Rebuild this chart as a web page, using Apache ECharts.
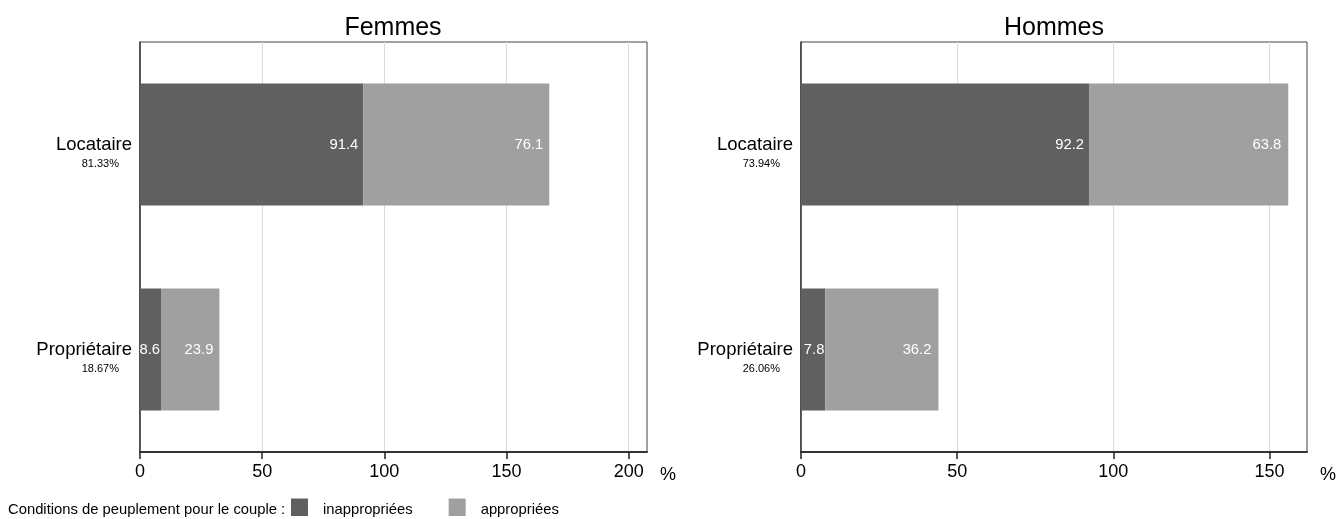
<!DOCTYPE html>
<html>
<head>
<meta charset="utf-8">
<script src="https://cdn.jsdelivr.net/npm/echarts@6/dist/echarts.min.js"></script>
<style>
html,body{margin:0;padding:0;background:#fff;}
#chart{width:1341px;height:519px;}
</style>
</head>
<body>
<div id="chart"></div>
<script>
// ---- data ----
const categories = ['Locataire', 'Propriétaire'];
const panelTitles = ['Femmes', 'Hommes'];
const femmesShare = [81.33, 18.67];
const hommesShare = [73.94, 26.06];
const femmesInappropriees = [91.4, 8.6];
const femmesAppropriees = [76.1, 23.9];
const hommesInappropriees = [92.2, 7.8];
const hommesAppropriees = [63.8, 36.2];
const femmesTicks = [0, 50, 100, 150, 200];
const hommesTicks = [0, 50, 100, 150];
const femmesMax = 207.5;
const hommesMax = 162;
const seriesNames = ['inappropriées', 'appropriées'];
const legendPrefix = 'Conditions de peuplement pour le couple :';
const unitLabel = '%';

// ---- style ----
const DARK = '#606060';
const LIGHT = '#a0a0a0';
const FONT = '"Liberation Sans", Arial, sans-serif';

const chart = echarts.init(document.getElementById('chart'), null, {renderer: 'canvas'});

function xAxisFor(gridIndex, max, ticks) {
  return {
    type: 'value', gridIndex: gridIndex, min: 0, max: max, interval: 50,
    name: '{u|' + unitLabel + '}', nameLocation: 'end', nameGap: 13,
    nameTextStyle: {
      rich: {u: {fontFamily: FONT, fontSize: 18, color: '#000', padding: [46, 0, 0, 0]}}
    },
    axisLine: {show: true, lineStyle: {color: '#333', width: 2}},
    axisTick: {show: true, inside: false, length: 7, lineStyle: {color: '#222', width: 1.5}, customValues: ticks},
    axisLabel: {
      fontFamily: FONT, fontSize: 18, color: '#000', margin: 11,
      formatter: function (v) { return ticks.indexOf(v) >= 0 ? String(v) : ''; }
    },
    splitLine: {show: true, lineStyle: {color: '#dcdcdc', width: 1}}
  };
}

function yAxisFor(gridIndex, shares) {
  return {
    type: 'category', gridIndex: gridIndex, data: categories, inverse: true,
    axisLine: {show: true, lineStyle: {color: '#333', width: 1.5}},
    axisTick: {show: false},
    splitLine: {show: false},
    axisLabel: {
      margin: 8,
      padding: [16, 0, 0, 0],
      formatter: function (v, i) {
        return '{a|' + v + '}\n{b|' + shares[i].toFixed(2) + '%}';
      },
      rich: {
        a: {fontFamily: FONT, fontSize: 18.5, color: '#000', lineHeight: 22, align: 'right'},
        b: {fontFamily: FONT, fontSize: 11, color: '#000', lineHeight: 16, align: 'right', padding: [0, 13, 0, 0]}
      }
    }
  };
}

function barData(values) {
  return values.map(function (v) {
    return v < 10 ? {value: v, label: {distance: 1}} : {value: v};
  });
}

function barSeries(name, values, color, axisIndex, stack, distance) {
  return {
    name: name, type: 'bar', stack: stack,
    xAxisIndex: axisIndex, yAxisIndex: axisIndex,
    barWidth: '59.5%',
    itemStyle: {color: color},
    label: {
      show: true, position: 'insideRight', distance: distance,
      fontFamily: FONT, fontSize: 14.8, color: '#fff',
      formatter: function (p) { return p.value.toFixed(1); }
    },
    emphasis: {disabled: true},
    data: barData(values)
  };
}

const option = {
  animation: false,
  backgroundColor: '#fff',
  title: [
    {text: panelTitles[0], left: 388, top: 11, textAlign: 'center',
     textStyle: {fontFamily: FONT, fontSize: 25, fontWeight: 'normal', color: '#000'}},
    {text: panelTitles[1], left: 1049, top: 11, textAlign: 'center',
     textStyle: {fontFamily: FONT, fontSize: 25, fontWeight: 'normal', color: '#000'}}
  ],
  grid: [
    {left: 140, right: 694, top: 42, bottom: 67, show: true, borderColor: '#444', borderWidth: 1, backgroundColor: '#fff'},
    {left: 801, right: 34, top: 42, bottom: 67, show: true, borderColor: '#444', borderWidth: 1, backgroundColor: '#fff'}
  ],
  xAxis: [xAxisFor(0, femmesMax, femmesTicks), xAxisFor(1, hommesMax, hommesTicks)],
  yAxis: [yAxisFor(0, femmesShare), yAxisFor(1, hommesShare)],
  legend: {
    data: seriesNames,
    left: 291, top: 498.5, padding: 0,
    itemWidth: 17, itemHeight: 17.5, itemGap: 36,
    icon: 'rect',
    selectedMode: false,
    formatter: function (name) { return '{t|' + name + '}'; },
    textStyle: {
      fontFamily: FONT, fontSize: 14.8, color: '#000',
      rich: {t: {fontFamily: FONT, fontSize: 14.8, color: '#000', padding: [6, 0, 0, 10]}}
    }
  },
  graphic: [
    {type: 'text', x: 8, y: 510,
     style: {text: legendPrefix, font: '14.8px ' + FONT, fill: '#000', verticalAlign: 'middle'}}
  ],
  series: [
    barSeries(seriesNames[0], femmesInappropriees, DARK, 0, 'f', 5),
    barSeries(seriesNames[1], femmesAppropriees, LIGHT, 0, 'f', 6),
    barSeries(seriesNames[0], hommesInappropriees, DARK, 1, 'h', 5),
    barSeries(seriesNames[1], hommesAppropriees, LIGHT, 1, 'h', 7)
  ]
};
chart.setOption(option);
</script>
</body>
</html>
